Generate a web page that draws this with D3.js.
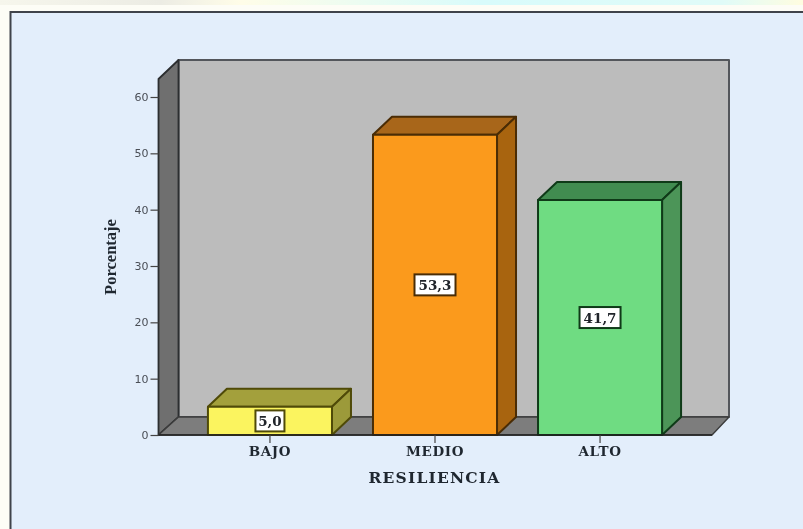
<!DOCTYPE html>
<html><head><meta charset="utf-8">
<script src="https://cdn.jsdelivr.net/npm/d3@7"></script>
<style>html,body{margin:0;padding:0;background:#fff}svg{display:block;filter:blur(.6px)}</style>
</head><body><svg id="c" width="803" height="529"></svg>
<script>
const categories = ["BAJO","MEDIO","ALTO"];
const values = [5.0,53.3,41.7];
const valueLabels = ["5,0","53,3","41,7"];
const yTicks = [0,10,20,30,40,50,60];
const frontColors = ["#fbf45f","#fb9a1c","#6fdc82"];
const topColors = ["#a3a03c","#a8661a","#418c50"];
const sideColors = ["#9c9a3a","#a8640f","#4c9558"];
const strokeColors = ["#4f4a08","#4a2c05","#0f3a18"];
const svg = d3.select("#c");
const W=803,H=529,dx=19,dy=18;
const y = d3.scaleLinear().domain([0,60]).range([435,97]);
const x = d3.scaleBand().domain(categories).range([167.5,702.5]).paddingInner(0.2485).paddingOuter(0.245);
const poly=(pts,fill,stroke,sw)=>svg.append("path").attr("d","M"+pts.map(p=>p.join(",")).join("L")+"Z").attr("fill",fill).attr("stroke",stroke).attr("stroke-width",sw).attr("stroke-linejoin","round");
// page & frame
const defs=svg.append("defs");
const g=defs.append("linearGradient").attr("id","topStrip").attr("x1",0).attr("x2",1);
[["0","#f6f6ec"],["0.2","#ecece4"],["0.3","#fffde8"],["0.6","#d8fbfb"],["0.9","#e0fbf8"],["1","#fffde0"]].forEach(s=>g.append("stop").attr("offset",s[0]).attr("stop-color",s[1]));
svg.append("rect").attr("width",W).attr("height",H).attr("fill","#fdfdf6");
svg.append("rect").attr("width",W).attr("height",5).attr("fill","url(#topStrip)");
svg.append("rect").attr("x",10).attr("y",12).attr("width",W-10).attr("height",H-12).attr("fill","#e3eefb");
svg.append("path").attr("d",`M10.5,${H}V12H${W}`).attr("fill","none").attr("stroke","#3f434a").attr("stroke-width",2);
// 3D walls
const x0=158.5,xb=178.5,xR=729,wallTop=60,floorB=y(0)-dy,floorF=y(0);
poly([[xb,wallTop],[xR,wallTop],[xR,floorB],[xb,floorB]],"#bcbcbc","#53565b",2);
poly([[x0,wallTop+19],[xb,wallTop],[xb,floorB],[x0,floorF]],"#6f6f6f","#2c2e30",1.8);
poly([[x0,floorF],[xb,floorB],[xR,floorB],[xR-17,floorF]],"#7d7d7d","#3c3c3c",1.4);
// bars
categories.forEach((c,i)=>{
  const a=x(c),b=a+x.bandwidth(),t=y(values[i]),z=y(0);
  poly([[a,t],[a+dx,t-dy],[b+dx,t-dy],[b,t]],topColors[i],strokeColors[i],2);
  poly([[b,t],[b+dx,t-dy],[b+dx,z-dy],[b,z]],sideColors[i],strokeColors[i],2);
  poly([[a,t],[b,t],[b,z],[a,z]],frontColors[i],strokeColors[i],2);
});
// axes
svg.append("line").attr("x1",x0).attr("x2",xR-17).attr("y1",floorF).attr("y2",floorF).attr("stroke","#222").attr("stroke-width",1.6);
const yAxis=svg.append("g").attr("transform",`translate(${x0},0)`).call(d3.axisLeft(y).tickValues(yTicks).tickSize(8).tickPadding(2));
yAxis.select(".domain").remove();
yAxis.selectAll("line").attr("stroke","#444").attr("stroke-width",1.2);
yAxis.selectAll("text").attr("font-family","'DejaVu Sans',sans-serif").attr("font-size",11).attr("fill","#4a4e56");
const xAxis=svg.append("g").attr("transform",`translate(0,${floorF})`).call(d3.axisBottom(x).tickSize(8).tickPadding(3));
xAxis.select(".domain").remove();
xAxis.selectAll("line").attr("stroke","#444").attr("stroke-width",1.2);
xAxis.selectAll("text").attr("font-family","'DejaVu Serif',serif").attr("font-weight","bold").attr("font-size",13.5).attr("letter-spacing",0.6).attr("fill","#1f2730");
// value labels
categories.forEach((c,i)=>{
  const cx=x(c)+x.bandwidth()/2, cy=y(values[i]/2);
  const w=i===0?29:41,h=21;
  svg.append("rect").attr("x",cx-w/2).attr("y",cy-h/2).attr("width",w).attr("height",h).attr("fill","#fff").attr("stroke",strokeColors[i]).attr("stroke-width",2);
  svg.append("text").attr("x",cx).attr("y",cy+5).attr("text-anchor","middle").attr("font-family","'DejaVu Serif',serif").attr("font-weight","bold").attr("font-size",13.5).attr("fill","#20242a").text(valueLabels[i]);
});
// titles
svg.append("text").attr("x",434.5).attr("y",483).attr("text-anchor","middle").attr("font-family","'DejaVu Serif',serif").attr("font-weight","bold").attr("font-size",15.5).attr("letter-spacing",1.2).attr("fill","#1f2730").text("RESILIENCIA");
svg.append("text").attr("transform","translate(116,257) rotate(-90)").attr("text-anchor","middle").attr("font-family","'Liberation Serif',serif").attr("font-weight","bold").attr("font-size",16.5).attr("fill","#1f2730").text("Porcentaje");
</script></body></html>
